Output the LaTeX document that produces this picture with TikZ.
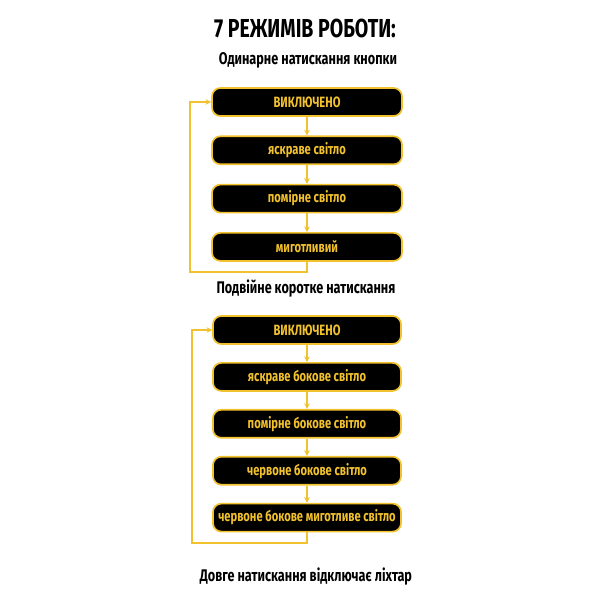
\documentclass[tikz,border=0pt]{standalone}
\usepackage{fontspec}
\setmainfont[FakeStretch=0.75]{Fira Sans}
\usetikzlibrary{positioning,arrows.meta}
\definecolor{gold}{HTML}{F2C12E}
\tikzset{
  mode/.style={draw=gold, fill=black, text=gold, line width=1.2pt, rounded corners=6pt,
    minimum width=4.75cm, minimum height=0.7cm, font=\bfseries\fontsize{10.6}{13}\selectfont},
  flow/.style={draw=gold, line width=0.8pt, -{Stealth[length=4pt,width=4pt]}},
  caption/.style={font=\bfseries\fontsize{12}{14}\selectfont}
}
\begin{document}
\begin{tikzpicture}[x=0.025cm, y=-0.025cm]
    \useasboundingbox[fill=white] (0,0) rectangle (600,600);
    % Headings
    \node[font=\bfseries\fontsize{18.5}{22}\selectfont] (title) at (305,28) {7 РЕЖИМІВ РОБОТИ:};
    \node[caption] (single) at (308,60) {Одинарне натискання кнопки};

    % Single press
    \node[mode] (s1) at (307,102) {ВИКЛЮЧЕНО};
    \node[mode, below=0.465cm of s1] (s2) {яскраве світло};
    \node[mode, below=0.465cm of s2] (s3) {помірне світло};
    \node[mode, below=0.465cm of s3] (s4) {миготливий};
    \draw[flow] (s1) -- (s2);
    \draw[flow] (s2) -- (s3);
    \draw[flow] (s3) -- (s4);
    \coordinate (sback) at (190,272);
    \draw[flow] (s4.south) |- (sback) |- (s1.west);

    \node[caption] (double) at (306,289) {Подвійне коротке натискання};

    % Double short press
    \node[mode, minimum width=4.7cm] (d1) at (307,330) {ВИКЛЮЧЕНО};
    \node[mode, minimum width=4.7cm, below=0.43cm of d1] (d2) {яскраве бокове світло};
    \node[mode, minimum width=4.7cm, below=0.43cm of d2] (d3) {помірне бокове світло};
    \node[mode, minimum width=4.7cm, below=0.43cm of d3] (d4) {червоне бокове світло};
    \node[mode, minimum width=4.7cm, below=0.43cm of d4] (d5) {червоне бокове миготливе світло};
    \draw[flow] (d1) -- (d2);
    \draw[flow] (d2) -- (d3);
    \draw[flow] (d3) -- (d4);
    \draw[flow] (d4) -- (d5);
    \coordinate (dback) at (192,543);
    \draw[flow] (d5.south) |- (dback) |- (d1.west);

    \node[caption] (long) at (306,577) {Довге натискання відключає ліхтар};
\end{tikzpicture}
\end{document}
